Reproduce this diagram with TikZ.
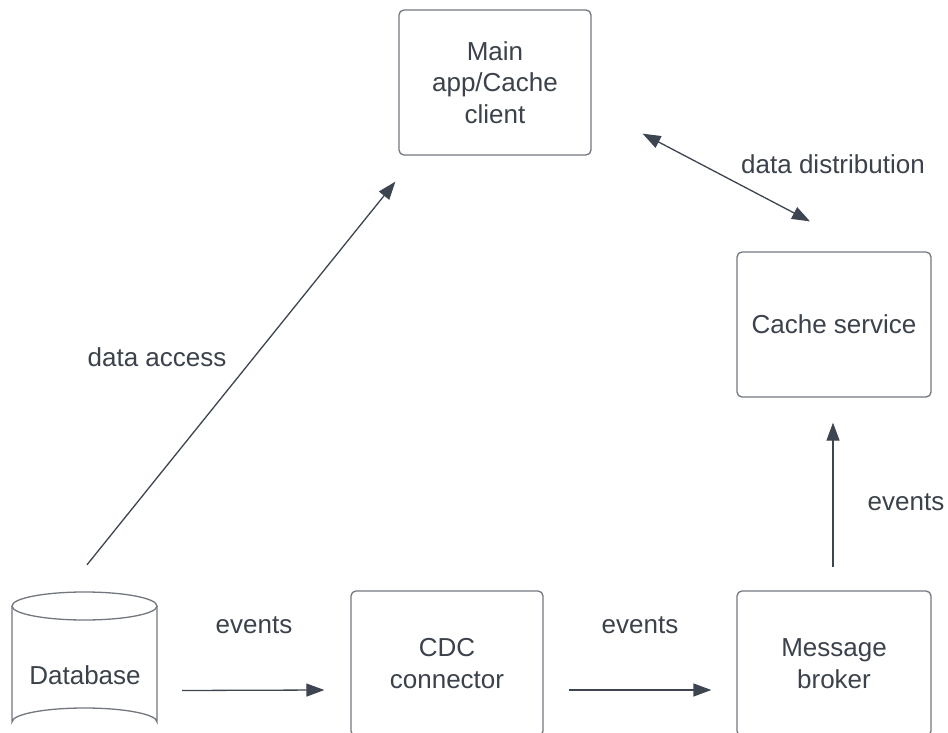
\documentclass[tikz,border=0pt]{standalone}
\usepackage{fontspec}
\setmainfont{Liberation Sans}
\usetikzlibrary{arrows.meta}
\definecolor{inkc}{HTML}{3B424B}
\definecolor{linec}{HTML}{3D4550}
\definecolor{boxc}{HTML}{72777E}
\begin{document}
\begin{tikzpicture}[x=1pt,y=-1pt,
  every node/.style={font=\fontsize{26}{31.5}\selectfont, text=inkc},
  box/.style={draw=boxc, line width=1.3pt, rounded corners=5pt, align=center,
    minimum width=192pt, minimum height=145pt, inner sep=0pt},
  lbl/.style={inner sep=0pt},
  arr/.style={draw=linec, line width=1.3pt, -{Triangle[length=18pt,width=13pt]}},
  biarr/.style={draw=linec, line width=1.3pt, {Triangle[length=18pt,width=13pt]}-{Triangle[length=18pt,width=13pt]}}]
\useasboundingbox (0,0) rectangle (948,733);
\fill[white] (0,0) rectangle (948,733);

% boxes
\node[box] (main) at (495,82.5) {Main\\app/Cache\\client};
\node[box, minimum width=194pt] (cache) at (834,324.5) {Cache service};
\node[box] (cdc) at (447,663.5) {CDC\\connector};
\node[box, minimum width=194pt] (broker) at (834,663.5) {Message\\broker};

% database cylinder
\draw[boxc, line width=1.3pt, fill=white]
  (12,606) -- (12,722) arc[start angle=180, end angle=360, x radius=72.5, y radius=14]
  -- (157,606);
\draw[boxc, line width=1.3pt] (84.5,606) ellipse[x radius=72.5, y radius=14];
\node[lbl, minimum width=145pt, minimum height=144pt] (db) at (84.5,664) {};
\node[lbl] at (85,675) {Database};

% connectors
\draw[arr] ([shift={(2.5,-27)}]db.north) -- ([shift={(-3,26)}]main.south west);
\draw[biarr] ([shift={(51,-22)}]main.south east) -- ([shift={(-24,-30)}]cache.north);
\draw[arr] ([shift={(25,26.5)}]db.east) -- ([shift={(-26,26.5)}]cdc.west);
\draw[arr] ([shift={(25,26.5)}]cdc.east) -- ([shift={(-25,26.5)}]broker.west);
\draw[arr] ([shift={(-1,-23)}]broker.north) -- ([shift={(-1,25)}]cache.south);

% labels
\node[lbl] at (157,357) {data access};
\node[lbl] at (833,164) {data distribution};
\node[lbl] at (254,625) {events};
\node[lbl] at (640,625) {events};
\node[lbl] at (906,502) {events};
\end{tikzpicture}
\end{document}
